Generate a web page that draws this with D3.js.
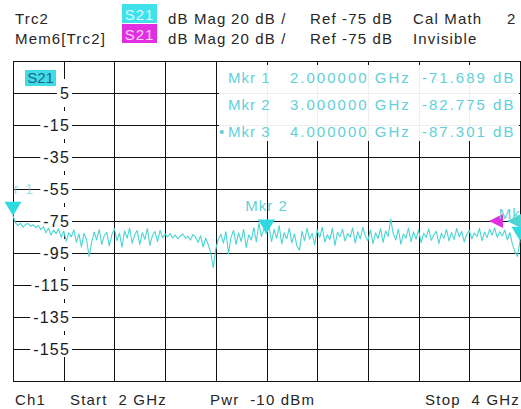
<!DOCTYPE html>
<html>
<head>
<meta charset="utf-8">
<script src="https://cdn.jsdelivr.net/npm/d3@7"></script>
<style>
  body { margin: 0; background: #fff; }
  svg text { font-family: "Liberation Sans", Arial, sans-serif; white-space: pre; }
</style>
</head>
<body>
<div id="chart"></div>
<script>
// sweep and trace (dB Mag, 201 points from 2 to 4 GHz)
var freqStart = 2, freqStop = 4;
var traceDb = [
  -71.7, -76.2, -77.9, -76.4, -78.8, -77.1, -76.6, -78.3, -77.4, -79.1,
  -77.8, -80.4, -78.6, -82.3, -79.5, -83.8, -80.7, -82.9, -79.9, -85.2,
  -81.3, -87.6, -82.4, -84.9, -80.6, -88.3, -83.1, -91.2, -82.7, -86.4,
  -97.1, -88.5, -81.9, -86.8, -80.4, -89.7, -84.2, -82.1, -90.6, -83.5,
  -79.8, -87.3, -82.6, -91.4, -81.2, -85.7, -79.4, -88.9, -83.6, -80.9,
  -89.8, -82.3, -86.5, -79.7, -90.2, -84.1, -81.6, -87.9, -80.8, -85.4,
  -83.2, -84.9, -82.8, -85.6, -83.7, -86.2, -84.4, -83.1, -85.8, -84.6,
  -86.9, -83.5, -85.1, -88.4, -84.2, -91.3, -85.6, -89.7, -94.8, -104.2,
  -92.5, -86.3, -83.4, -88.8, -81.7, -95.4, -85.2, -80.9, -89.6, -82.4,
  -87.8, -80.3, -91.5, -83.6, -86.9, -79.2, -88.1, -76.3, -84.7, -79.8,
  -82.775, -78.6, -87.9, -80.2, -85.8, -77.9, -89.4, -82.3, -86.1, -79.4,
  -88.7, -83.1, -90.6, -93.2, -81.5, -87.2, -79.6, -86.4, -82.8, -89.9,
  -80.7, -85.3, -78.8, -88.2, -83.6, -86.7, -79.5, -90.3, -82.1, -84.8,
  -80.2, -87.6, -82.9, -85.1, -79.3, -88.8, -81.7, -86.2, -78.9, -84.5,
  -87.3, -80.6, -89.1, -82.4, -85.9, -79.8, -88.4, -81.2, -84.6, -73.8,
  -82.9, -86.8, -80.1, -89.5, -83.2, -85.7, -79.4, -87.9, -81.8, -86.3,
  -80.5, -88.6, -82.7, -85.2, -79.9, -87.1, -83.8, -81.4, -89.2, -82.6,
  -85.9, -80.3, -87.4, -82.1, -86.6, -79.7, -84.9, -81.5, -88.1, -83.3,
  -80.8, -86.2, -82.5, -84.7, -79.6, -87.3, -81.9, -85.4, -80.2, -83.8,
  -79.4, -85.1, -81.7, -84.3, -80.6, -86.8, -82.2, -89.5, -94.3, -97.1,
  -87.301
];
var yTicks = [5, -15, -35, -55, -75, -95, -115, -135, -155];
var yMinor = [-5, -25, -45, -65, -85, -105, -125, -145];
var refLevel = -75;

var markerNames = ["Mkr 1", "Mkr 2", "Mkr 3"];
var markerFreqs = [2, 3, 4];
var markerDb = [-71.689, -82.775, -87.301];

var headerRow1 = ["Trc2", "dB Mag", "20 dB /", "Ref -75 dB", "Cal Math", "2"];
var headerRow2 = ["Mem6[Trc2]", "dB Mag", "20 dB /", "Ref -75 dB", "Invisible"];
var footer = ["Ch1", "Start  2 GHz", "Pwr  -10 dBm", "Stop  4 GHz"];

var W = 521, H = 409;
var plot = {left: 13, right: 520, top: 61, bottom: 381};
var cyan = "#4ad5d3", cyanText = "#62d0d8", magenta = "#e02ee0";

var svg = d3.select("#chart").append("svg")
  .attr("width", W)
  .attr("height", H);

var x = d3.scaleLinear().domain([freqStart, freqStop]).range([plot.left, plot.right]);
var y = d3.scaleLinear().domain([-175, 25]).range([plot.bottom, plot.top]);
function px(v) { return Math.round(v) + 0.5; }

// header
var hdrX = [15, 168, 231, 310, 413, 507];
function headerRow(row, yy, boxColor, boxText) {
  svg.selectAll(null).data(row).enter().append("text")
    .attr("x", function (d, i) { return hdrX[i]; })
    .attr("y", yy)
    .attr("font-size", 15)
    .attr("letter-spacing", 1.15)
    .attr("fill", "#262626")
    .text(function (d) { return d; });
  svg.append("rect")
    .attr("x", 122).attr("y", yy - 20).attr("width", 35).attr("height", 19)
    .attr("fill", boxColor);
  svg.append("text")
    .attr("x", 139.5).attr("y", yy - 4)
    .attr("text-anchor", "middle")
    .attr("font-size", 15)
    .attr("letter-spacing", 1)
    .attr("fill", boxText)
    .text("S21");
}
headerRow(headerRow1, 24, "#3fe2ea", "#d8fbff");
headerRow(headerRow2, 44, magenta, "#ffd6ff");

// grid
var g = svg.append("g").attr("stroke", "#111").attr("stroke-width", 1);
var vFreqs = d3.range(2, 10).map(function (k) { return freqStart + k * 0.2; });
g.selectAll(".vline").data(vFreqs).enter().append("line")
  .attr("x1", function (d) { return px(x(d)); })
  .attr("x2", function (d) { return px(x(d)); })
  .attr("y1", plot.top).attr("y2", plot.bottom);
g.selectAll(".hline").data(yTicks).enter().append("line")
  .attr("x1", plot.left).attr("x2", plot.right)
  .attr("y1", function (d) { return px(y(d)); })
  .attr("y2", function (d) { return px(y(d)); });

// axis column at 2.2 GHz: short pieces and minor ticks
var ax = px(x(2.2));
g.append("line").attr("x1", ax).attr("x2", ax).attr("y1", plot.top).attr("y2", y(15) + 2);
g.append("line").attr("x1", ax).attr("x2", ax).attr("y1", y(-165) - 8).attr("y2", plot.bottom);
g.selectAll(".minor").data(yMinor).enter().append("line")
  .attr("x1", ax).attr("x2", ax)
  .attr("y1", function (d) { return y(d) - 2; })
  .attr("y2", function (d) { return y(d) + 2; });

g.append("rect")
  .attr("x", px(plot.left)).attr("y", px(plot.top))
  .attr("width", plot.right - plot.left).attr("height", plot.bottom - plot.top)
  .attr("fill", "none");

// y labels with white backing
var lab = svg.append("g");
lab.selectAll("text").data(yTicks).enter().append("text")
  .attr("x", 70)
  .attr("y", function (d) { return y(d) + 6; })
  .attr("text-anchor", "end")
  .attr("font-size", 16)
  .attr("letter-spacing", 1.2)
  .attr("fill", "#1a1a1a")
  .text(function (d) { return d; })
  .each(function () {
    var b = this.getBBox();
    lab.insert("rect", "text")
      .attr("x", b.x - 3).attr("y", b.y + 1)
      .attr("width", 72 - b.x + 3).attr("height", b.height - 2)
      .attr("fill", "#fff");
  });

// trace label box
svg.append("rect").attr("x", 25).attr("y", 70).attr("width", 31).attr("height", 16)
  .attr("fill", "#40dde6");
svg.append("text").attr("x", 40.5).attr("y", 83).attr("text-anchor", "middle")
  .attr("font-size", 15).attr("fill", "#22648e").text("S21");

// marker info block
svg.append("rect").attr("x", 219).attr("y", 65).attr("width", 300).attr("height", 76)
  .attr("fill", "#fff").attr("opacity", 0.93);
var info = svg.append("g").attr("fill", cyanText).attr("font-size", 15).attr("letter-spacing", 2);
markerNames.forEach(function (m, i) {
  var yy = 83 + i * 27;
  info.append("text").attr("x", 228).attr("y", yy).attr("letter-spacing", 1).text(m);
  info.append("text").attr("x", 290).attr("y", yy).text(markerFreqs[i].toFixed(6) + " GHz");
  info.append("text").attr("x", 422).attr("y", yy).text(markerDb[i].toFixed(3) + " dB");
});
info.append("text").attr("x", 219).attr("y", 83 + 2 * 27).text("\u2022");

// trace
var step = (freqStop - freqStart) / (traceDb.length - 1);
var line = d3.line()
  .x(function (d, i) { return x(freqStart + i * step); })
  .y(function (d) { return y(d); });
svg.append("path")
  .datum(traceDb)
  .attr("d", line)
  .attr("fill", "none")
  .attr("stroke", cyan)
  .attr("stroke-width", 1.1)
  .attr("stroke-linejoin", "round");

// reference level arrows at right edge
svg.append("path")
  .attr("d", "M" + 489 + "," + y(refLevel) + "l14,-7l0,14z")
  .attr("fill", magenta);
svg.append("path")
  .attr("d", "M" + 507 + "," + y(refLevel) + "l14,-7l0,14z")
  .attr("fill", cyan);

// markers
svg.append("clipPath").attr("id", "plotclip").append("rect")
  .attr("x", plot.left).attr("y", 0).attr("width", plot.right - plot.left).attr("height", H);
markerNames.forEach(function (m, i) {
  var mx = x(markerFreqs[i]), my = y(markerDb[i]);
  svg.append("path")
    .attr("d", "M" + mx + "," + my + "l-8.5,-14l17,0z")
    .attr("fill", "#2fd9e0");
  svg.append("text")
    .attr("x", mx).attr("y", my - 22)
    .attr("text-anchor", "middle")
    .attr("clip-path", "url(#plotclip)")
    .attr("font-size", 15)
    .attr("letter-spacing", 1)
    .attr("fill", cyanText)
    .attr("opacity", i === 0 ? 0.6 : 1)
    .text(m);
});

// footer
var ftX = [15, 70, 210];
svg.selectAll(".ft").data(footer).enter().append("text")
  .attr("x", function (d, i) { return i < 3 ? ftX[i] : 520; })
  .attr("y", 405)
  .attr("text-anchor", function (d, i) { return i < 3 ? "start" : "end"; })
  .attr("font-size", 15)
  .attr("letter-spacing", 1.2)
  .attr("fill", "#262626")
  .text(function (d) { return d; });
</script>
</body>
</html>
